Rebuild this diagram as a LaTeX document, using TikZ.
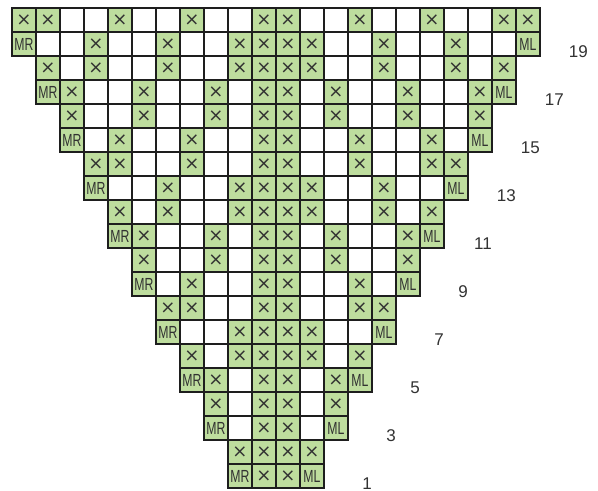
\documentclass[tikz,border=0pt]{standalone}
\usepackage{fontspec}
\setmainfont{Liberation Sans}
\newfontfamily\condfont[FakeStretch=0.7]{Liberation Sans}
\newfontfamily\symfont{DejaVu Sans}
\usetikzlibrary{positioning}
\definecolor{chartgreen}{RGB}{190,221,158}
\definecolor{gridline}{RGB}{30,30,30}
\definecolor{ink}{RGB}{50,50,50}
\newcommand{\crossfont}{\symfont\fontsize{18}{18}\selectfont}
\newcommand{\incfont}{\condfont\fontsize{17.5}{17.5}\selectfont}
\newcommand{\numfont}{\fontsize{17}{17}\selectfont}

\begin{document}
\begin{tikzpicture}[
    x=24pt, y=24pt,
    cell/.style={rectangle, draw=gridline, line width=2pt, minimum size=24pt, inner sep=0pt, outer sep=0pt, fill=white},
    filled/.style={cell, fill=chartgreen, text=ink},
    cross/.style={filled, font=\crossfont},
    incr/.style={filled, font=\incfont},
    rowno/.style={anchor=base east, inner sep=0pt, font=\numfont, text=ink}
]
    \useasboundingbox (-0.5,-0.104) rectangle (24.417,20.354);

    \foreach \r/\xs in {20/{0,1,4,7,10,11,14,17,20,21}, 19/{3,6,9,10,11,12,15,18},
        18/{1,3,6,9,10,11,12,15,18,20}, 17/{2,5,8,10,11,13,16,19},
        16/{2,5,8,10,11,13,16,19}, 15/{4,7,10,11,14,17},
        14/{3,4,7,10,11,14,17,18}, 13/{6,9,10,11,12,15},
        12/{4,6,9,10,11,12,15,17}, 11/{5,8,10,11,13,16},
        10/{5,8,10,11,13,16}, 9/{7,10,11,14},
        8/{6,7,10,11,14,15}, 7/{9,10,11,12},
        6/{7,9,10,11,12,14}, 5/{8,10,11,13},
        4/{8,10,11,13}, 3/{10,11},
        2/{9,10,11,12}, 1/{10,11}} {
        \pgfmathtruncatemacro{\p}{(\r+1)/2}
        \pgfmathtruncatemacro{\first}{10-\p}
        \pgfmathtruncatemacro{\last}{11+\p}
        \foreach \c in {\first,...,\last}
            \node[cell] (c\r-\c) at (\c+0.5,\r-0.5) {};
        \foreach \c in \xs
            \node[cross] (c\r-\c) at (\c+0.5,\r-0.5) {×};
    }

    \foreach \r in {1,3,...,19} {
        \pgfmathtruncatemacro{\p}{(\r+1)/2}
        \pgfmathtruncatemacro{\first}{10-\p}
        \pgfmathtruncatemacro{\last}{11+\p}
        \node[incr] (c\r-\first) at (\first+0.5,\r-0.5) {MR};
        \node[incr] (c\r-\last) at (\last+0.5,\r-0.5) {ML};
        \node[rowno] (row\r) at (\last+3,\r-1.04) {\r};
    }
\end{tikzpicture}
\end{document}
